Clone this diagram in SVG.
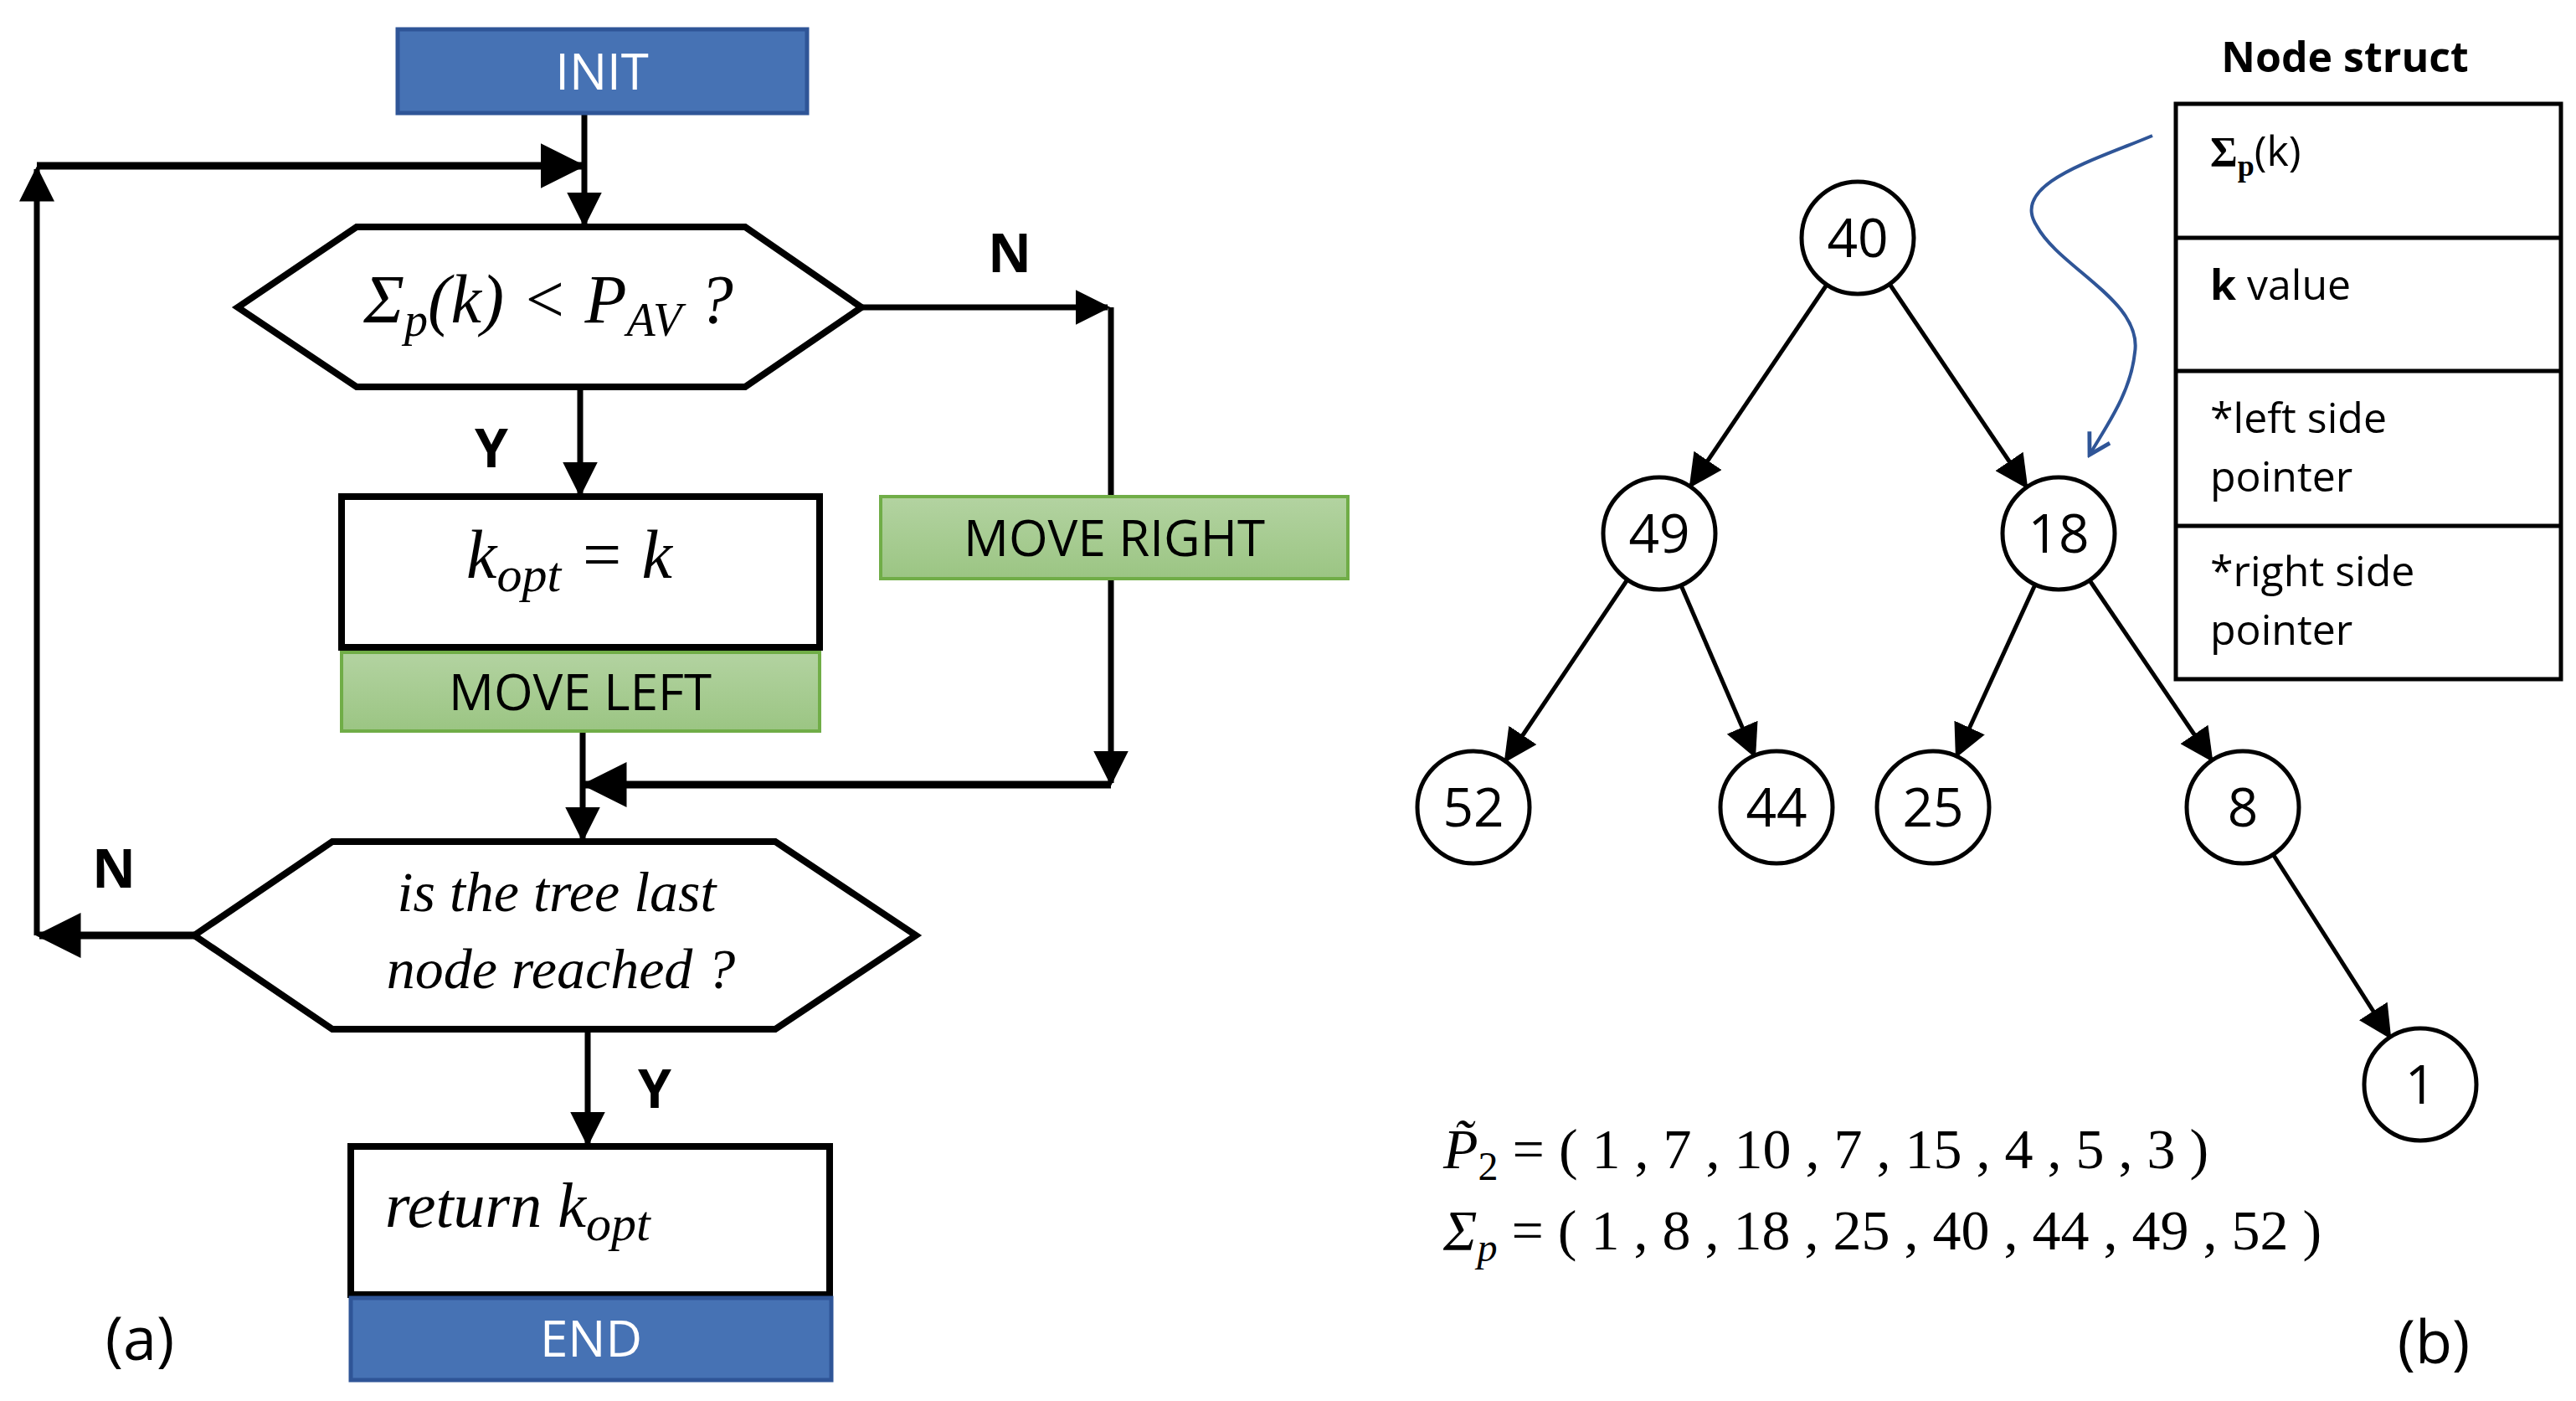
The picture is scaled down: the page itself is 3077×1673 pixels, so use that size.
<svg xmlns="http://www.w3.org/2000/svg" width="3077" height="1673" viewBox="0 0 3077 1673">
<style>
.ln{fill:none;stroke:#000;stroke-width:7}
.lt{fill:none;stroke:#000;stroke-width:5}
.box{fill:#fff;stroke:#000;stroke-width:8}
.blue{fill:#4672b4;stroke:#2f5597;stroke-width:5}
.green{fill:url(#g);stroke:#70ad47;stroke-width:4}
.sans{font-family:"Open Sans","Noto Sans",sans-serif}
.math{font-family:"Liberation Serif",serif;font-style:italic}
.yn{font-family:"Open Sans",sans-serif;font-weight:bold;font-size:64px}
.circ{fill:#fff;stroke:#000;stroke-width:5}
.num{font-family:"Open Sans",sans-serif;font-size:64px;text-anchor:middle}
.tt{font-family:"Open Sans",sans-serif;font-size:50px}
</style>
<defs>
<linearGradient id="g" x1="0" y1="0" x2="0" y2="1"><stop offset="0" stop-color="#b3d3a1"/><stop offset="1" stop-color="#9bc583"/></linearGradient>
<marker id="a" markerWidth="6" markerHeight="6" refX="5.5" refY="3" orient="auto" markerUnits="strokeWidth"><path d="M0,0 L6,3 L0,6 z" fill="#000"/></marker>
<marker id="t" markerWidth="8" markerHeight="8" refX="7.5" refY="4" orient="auto" markerUnits="strokeWidth"><path d="M0,0 L8,4 L0,8 z" fill="#000"/></marker>
<marker id="b" markerWidth="8" markerHeight="8" refX="7" refY="4" orient="auto" markerUnits="strokeWidth"><path d="M1,0.5 L7,4 L1,7.5" fill="none" stroke="#2f5597" stroke-width="1.2"/></marker>
</defs>
<g id="connectors">
<path class="ln" d="M698,137 V268" marker-end="url(#a)"/>
<path class="ln" style="stroke-width:9" d="M44,198 H695" marker-end="url(#a)"/>
<path class="ln" d="M44,1117 V202" marker-end="url(#a)"/>
<path class="ln" d="M1029,367 H1323" marker-end="url(#a)"/>
<path class="ln" d="M1327,367 V935" marker-end="url(#a)"/>
<path class="ln" style="stroke-width:9" d="M1327,937 H699" marker-end="url(#a)"/>
<path class="ln" d="M693,462 V590" marker-end="url(#a)"/>
<path class="ln" d="M696,873 V1002" marker-end="url(#a)"/>
<path class="ln" style="stroke-width:9" d="M232,1117 H47" marker-end="url(#a)"/>
<path class="ln" d="M702,1229 V1366" marker-end="url(#a)"/>
<path class="lt" d="M2182,340 L2019,581" marker-end="url(#t)"/>
<path class="lt" d="M2257,339 L2421,582" marker-end="url(#t)"/>
<path class="lt" d="M1944,692 L1798,909" marker-end="url(#t)"/>
<path class="lt" d="M2008,699 L2096,903" marker-end="url(#t)"/>
<path class="lt" d="M2431,698 L2337,903" marker-end="url(#t)"/>
<path class="lt" d="M2496,693 L2642,908" marker-end="url(#t)"/>
<path class="lt" d="M2715,1020 L2855,1239" marker-end="url(#t)"/>
<path d="M2571,162 C2500,192 2400,220 2433,270 C2460,320 2560,360 2550,421 C2545,470 2515,510 2496,543" fill="none" stroke="#2f5597" stroke-width="4" marker-end="url(#b)"/>
</g>
<g id="init"><rect class="blue" x="475" y="35" width="489" height="100"/><text class="sans" x="719" y="107" font-size="60" fill="#fff" text-anchor="middle">INIT</text></g>
<g id="cond1"><polygon class="box" points="284,367 426,271 890,271 1029,367 890,462 426,462"/>
<text class="math" x="655" y="385" font-size="82" text-anchor="middle">Σ<tspan font-size="56" dy="16">p</tspan><tspan dy="-16">(k) &lt; P</tspan><tspan font-size="56" dy="16">AV</tspan><tspan dy="-16"> ?</tspan></text></g>
<text class="yn" x="1180" y="325">N</text>
<text class="yn" x="567" y="558">Y</text>
<g id="kopt"><rect class="box" x="408" y="593" width="571" height="180"/><text class="math" x="680" y="690" font-size="82" text-anchor="middle">k<tspan font-size="60" dy="16">opt</tspan><tspan dy="-16"> = k</tspan></text></g>
<g id="moveleft"><rect class="green" x="408" y="779" width="571" height="94"/><text class="sans" x="693" y="848" font-size="60" text-anchor="middle">MOVE LEFT</text></g>
<g id="moveright"><rect class="green" x="1052" y="593" width="558" height="98"/><text class="sans" x="1331" y="664" font-size="60" text-anchor="middle">MOVE RIGHT</text></g>
<g id="cond2"><polygon class="box" points="232,1117 397,1005 926,1005 1094,1117 926,1229 397,1229"/>
<text class="math" x="665" y="1088" font-size="68" text-anchor="middle">is the tree last</text>
<text class="math" x="670" y="1180" font-size="68" text-anchor="middle">node reached ?</text></g>
<text class="yn" x="110" y="1060">N</text>
<text class="yn" x="762" y="1323">Y</text>
<g id="ret"><rect class="box" x="419" y="1369" width="572" height="177"/><text class="math" x="460" y="1465" font-size="76">return k<tspan font-size="60" dy="16">opt</tspan></text></g>
<g id="end"><rect class="blue" x="419" y="1550" width="574" height="98"/><text class="sans" x="706" y="1620" font-size="60" fill="#fff" text-anchor="middle">END</text></g>
<text class="sans" x="167" y="1624" font-size="72" text-anchor="middle">(a)</text>
<g id="n40"><circle class="circ" cx="2219" cy="284" r="67"/><text class="num" x="2219" y="307">40</text></g>
<g id="n49"><circle class="circ" cx="1982" cy="637" r="67"/><text class="num" x="1982" y="660">49</text></g>
<g id="n18"><circle class="circ" cx="2459" cy="637" r="67"/><text class="num" x="2459" y="660">18</text></g>
<g id="n52"><circle class="circ" cx="1760" cy="964" r="67"/><text class="num" x="1760" y="987">52</text></g>
<g id="n44"><circle class="circ" cx="2122" cy="964" r="67"/><text class="num" x="2122" y="987">44</text></g>
<g id="n25"><circle class="circ" cx="2309" cy="964" r="67"/><text class="num" x="2309" y="987">25</text></g>
<g id="n8"><circle class="circ" cx="2679" cy="964" r="67"/><text class="num" x="2679" y="987">8</text></g>
<g id="n1"><circle class="circ" cx="2891" cy="1295" r="67"/><text class="num" x="2891" y="1318">1</text></g>
<g id="struct">
<text class="tt" x="2801" y="86" font-weight="bold" font-size="52" text-anchor="middle">Node struct</text>
<rect x="2599" y="124" width="460" height="687" fill="#fff" stroke="#000" stroke-width="5"/>
<path d="M2599,284 H3059 M2599,443 H3059 M2599,628 H3059" stroke="#000" stroke-width="5"/>
<text class="tt" x="2640" y="198"><tspan font-family="Liberation Serif,serif" font-weight="bold">Σ</tspan><tspan font-family="Liberation Serif,serif" font-weight="bold" font-size="36" dy="12">p</tspan><tspan dy="-12">(k)</tspan></text>
<text class="tt" x="2640" y="358"><tspan font-weight="bold">k</tspan> value</text>
<text class="tt" x="2640" y="517">*left side</text>
<text class="tt" x="2640" y="587">pointer</text>
<text class="tt" x="2640" y="700">*right side</text>
<text class="tt" x="2640" y="770">pointer</text>
</g>
<text class="math" x="1724" y="1395" font-size="68">P̃<tspan font-size="48" dy="14" font-style="normal">2</tspan><tspan dy="-14" font-style="normal"> = ( 1 , 7 , 10 , 7 , 15 , 4 , 5 , 3 )</tspan></text>
<text class="math" x="1724" y="1492" font-size="68">Σ<tspan font-size="48" dy="14">p</tspan><tspan dy="-14" font-style="normal"> = ( 1 , 8 , 18 , 25 , 40 , 44 , 49 , 52 )</tspan></text>
<text class="sans" x="2907" y="1628" font-size="72" text-anchor="middle">(b)</text>
</svg>
